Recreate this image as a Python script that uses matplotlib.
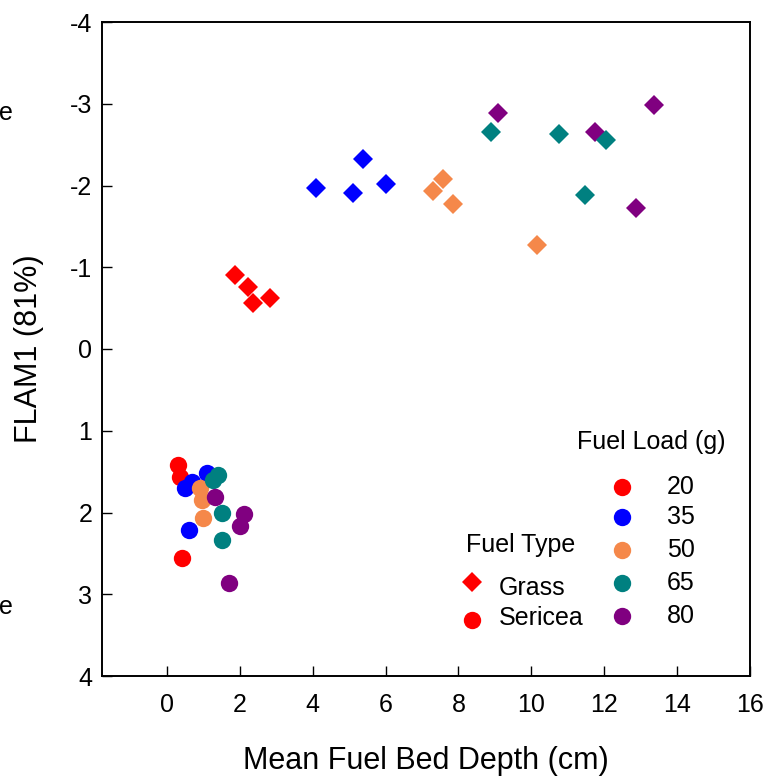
import matplotlib
matplotlib.use("Agg")
import matplotlib.pyplot as plt

plt.rcParams['font.family'] = ['Liberation Sans', 'DejaVu Sans']
plt.rcParams['axes.unicode_minus'] = False

# Fuel loads and colours
loads = [20, 35, 50, 65, 80]
load_colors = {20: '#FF0000', 35: '#0000FF', 50: '#F5884A', 65: '#008080', 80: '#800080'}

# Grass (diamonds)
grass_load = [20, 20, 20, 20,
              35, 35, 35, 35,
              50, 50, 50, 50,
              65, 65, 65, 65,
              80, 80, 80, 80]
grass_depth = [1.86, 2.22, 2.36, 2.82,
               4.08, 5.10, 5.37, 6.00,
               7.29, 7.59, 7.86, 10.16,
               8.88, 10.77, 12.05, 11.48,
               9.09, 11.75, 13.37, 12.88]
grass_flam = [-0.90, -0.76, -0.56, -0.62,
              -1.97, -1.91, -2.32, -2.02,
              -1.93, -2.08, -1.77, -1.27,
              -2.65, -2.63, -2.56, -1.88,
              -2.89, -2.65, -2.98, -1.72]

# Sericea (circles)
ser_load = [20, 20, 20,
            35, 35, 35, 35,
            50, 50, 50,
            65, 65, 65, 65,
            80, 80, 80, 80]
ser_depth = [0.30, 0.36, 0.41,
             1.10, 0.68, 0.49, 0.60,
             0.90, 0.96, 0.99,
             1.40, 1.26, 1.51, 1.51,
             1.32, 2.11, 2.00, 1.70]
ser_flam = [1.42, 1.57, 2.56,
            1.52, 1.63, 1.70, 2.21,
            1.70, 1.85, 2.07,
            1.54, 1.60, 2.01, 2.34,
            1.81, 2.02, 2.17, 2.86]

x_ticks = [0, 2, 4, 6, 8, 10, 12, 14, 16]
y_ticks = [-4, -3, -2, -1, 0, 1, 2, 3, 4]

fig = plt.figure(figsize=(7.75, 7.83), dpi=100)
ax = fig.add_axes([102/775, 1 - 676/783, 648/775, 654/783])

grass_order = [20, 35, 50, 80, 65]
for ld in grass_order:
    xs = [x for x, l in zip(grass_depth, grass_load) if l == ld]
    ys = [y for y, l in zip(grass_flam, grass_load) if l == ld]
    ax.plot(xs, ys, linestyle='none', marker='D', markersize=9.7,
            color=load_colors[ld], markeredgewidth=0)
for ld in loads:
    xs = [x for x, l in zip(ser_depth, ser_load) if l == ld]
    ys = [y for y, l in zip(ser_flam, ser_load) if l == ld]
    ax.plot(xs, ys, linestyle='none', marker='o', markersize=12.5,
            color=load_colors[ld], markeredgewidth=0)

ax.set_xlim(-1.78, 16)
ax.set_ylim(4, -4)
ax.set_xticks(x_ticks)
ax.set_yticks(y_ticks)
ax.tick_params(direction='in', length=7, width=1.0, labelsize=18, pad=7,
               top=False, right=False)
ax.tick_params(axis='x', pad=12)
for s in ax.spines.values():
    s.set_linewidth(1.4)

ax.set_xlabel('Mean Fuel Bed Depth (cm)', fontsize=22)
ax.xaxis.set_label_coords(0.5, -0.107)
ax.set_ylabel('FLAM1 (81%)', fontsize=22)
ax.yaxis.set_label_coords(-0.090, 0.5)

def fx(px):
    return (px - 102) / 648

def fy(py):
    return (676 - py) / 654

# Legend: Fuel Load
ax.text(fx(651), fy(442), 'Fuel Load (g)', transform=ax.transAxes,
        ha='center', va='center', fontsize=18)
rows = [487, 517, 550, 583, 616]
for ld, py in zip(loads, rows):
    ax.plot([fx(622)], [fy(py)], transform=ax.transAxes, marker='o',
            markersize=12.5, color=load_colors[ld], markeredgewidth=0,
            linestyle='none', clip_on=False)
    ax.text(fx(667), fy(py), str(ld), transform=ax.transAxes,
            ha='left', va='center', fontsize=18)

# Legend: Fuel Type
ax.text(fx(521), fy(545), 'Fuel Type', transform=ax.transAxes,
        ha='center', va='center', fontsize=18)
ax.plot([fx(472)], [fy(582)], transform=ax.transAxes, marker='D',
        markersize=9.7, color=load_colors[20], markeredgewidth=0,
        linestyle='none', clip_on=False)
ax.text(fx(499), fy(588), 'Grass', transform=ax.transAxes,
        ha='left', va='center', fontsize=18)
ax.plot([fx(472)], [fy(620)], transform=ax.transAxes, marker='o',
        markersize=12.5, color=load_colors[20], markeredgewidth=0,
        linestyle='none', clip_on=False)
ax.text(fx(499), fy(618), 'Sericea', transform=ax.transAxes,
        ha='left', va='center', fontsize=18)

# Cut-off annotation fragments at the left edge
fig.text(13/775, 1 - 113/783, 'e', ha='right', va='center', fontsize=18)
fig.text(13/775, 1 - 607/783, 'e', ha='right', va='center', fontsize=18)

fig.savefig('out.png', dpi=100)
